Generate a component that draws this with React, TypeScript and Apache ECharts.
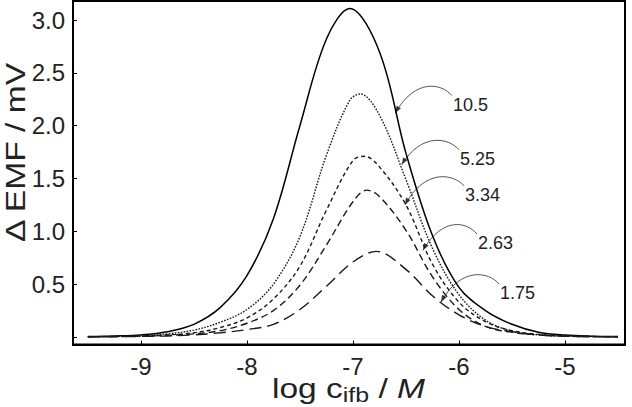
import React, { useEffect, useRef } from "react";
import * as echarts from "echarts";

// ---- data ----
const xs10_5 = [-9.5, -9.25, -9, -8.75, -8.5, -8.25, -8, -7.75, -7.5, -7.25, -7.03, -6.75, -6.5, -6.25, -6, -5.75, -5.5, -5.25, -5, -4.75, -4.5];
const ys10_5 = [0.005, 0.01, 0.02, 0.05, 0.12, 0.28, 0.58, 1.12, 2.0, 2.82, 3.11, 2.7, 1.74, 0.96, 0.47, 0.25, 0.12, 0.045, 0.018, 0.008, 0.004];

const xs5_25 = [-9.5, -9.25, -9, -8.75, -8.5, -8.25, -8, -7.75, -7.5, -7.25, -7.03, -6.93, -6.75, -6.5, -6.25, -6, -5.75, -5.5, -5.25, -5, -4.75, -4.5];
const ys5_25 = [0.003, 0.006, 0.012, 0.03, 0.065, 0.14, 0.26, 0.5, 0.95, 1.72, 2.24, 2.3, 2.1, 1.49, 0.84, 0.4, 0.16, 0.055, 0.02, 0.008, 0.004, 0.002];

const xs3_34 = [-9.5, -9.25, -9, -8.75, -8.5, -8.25, -8, -7.75, -7.5, -7.25, -7, -6.89, -6.75, -6.5, -6.25, -6, -5.75, -5.5, -5.25, -5, -4.75, -4.5];
const ys3_34 = [0.003, 0.005, 0.01, 0.02, 0.04, 0.09, 0.18, 0.36, 0.67, 1.2, 1.67, 1.71, 1.61, 1.25, 0.69, 0.33, 0.145, 0.06, 0.025, 0.01, 0.005, 0.002];

const xs2_63 = [-9.5, -9.25, -9, -8.75, -8.5, -8.25, -8, -7.75, -7.5, -7.25, -7, -6.87, -6.75, -6.5, -6.25, -6, -5.75, -5.5, -5.25, -5, -4.75, -4.5];
const ys2_63 = [0.002, 0.004, 0.008, 0.015, 0.03, 0.06, 0.13, 0.25, 0.49, 0.87, 1.28, 1.39, 1.33, 1.01, 0.57, 0.26, 0.1, 0.045, 0.02, 0.008, 0.004, 0.002];

const xs1_75 = [-9.5, -9.25, -9, -8.75, -8.5, -8.25, -8, -7.75, -7.5, -7.25, -7, -6.78, -6.5, -6.25, -6, -5.75, -5.5, -5.25, -5, -4.75, -4.5];
const ys1_75 = [0.002, 0.003, 0.006, 0.01, 0.02, 0.04, 0.07, 0.12, 0.26, 0.48, 0.71, 0.81, 0.64, 0.39, 0.21, 0.1, 0.05, 0.02, 0.008, 0.004, 0.002];

const seriesLabels = ["10.5", "5.25", "3.34", "2.63", "1.75"];
const seriesXs = [xs10_5, xs5_25, xs3_34, xs2_63, xs1_75];
const seriesYs = [ys10_5, ys5_25, ys3_34, ys2_63, ys1_75];

// annotation anchors (data coordinates): arrow tip on curve, label left/middle
const annoTipX = [-6.6, -6.54, -6.51, -6.34, -6.17];
const annoTipY = [2.12, 1.63, 1.25, 0.82, 0.33];
const annoLabelX = [-6.057, -5.99, -5.943, -5.821, -5.613];
const annoLabelY = [2.2, 1.686, 1.345, 0.89, 0.417];

const xMin = -9.64;
const xMax = -4.434;
const yMin = -0.071;
const yMax = 3.18;

const yTitle = "Δ EMF / mV";
const xTitleParts = ["log c", "ifb", " / ", "M"];

const FAMILY = '"Liberation Sans", Arial, Helvetica, sans-serif';

function measure(text: string, font: string): number {
  const c = document.createElement("canvas").getContext("2d");
  if (!c) return text.length * 10;
  c.font = font;
  return c.measureText(text).width;
}

export default function App() {
  const ref = useRef<HTMLDivElement>(null);
  useEffect(() => {
    if (!ref.current) return;
    const chart = echarts.init(ref.current, undefined, { renderer: "svg" });

    const dashStyles: any[] = ["solid", [1.6, 1.4], [4, 3], [7, 4], [12, 6]];
    const widths = [1.5, 1.4, 1.4, 1.4, 1.4];

    const series = seriesLabels.map((name, i) => ({
      name,
      type: "line",
      data: seriesXs[i].map((x, j) => [x, seriesYs[i][j]]),
      showSymbol: false,
      smooth: 0.35,
      silent: true,
      lineStyle: { color: i === 0 ? "#000" : "#1a1a1a", width: widths[i], type: dashStyles[i], cap: "butt" },
    }));

    const option: any = {
      animation: false,
      grid: {
        left: 73,
        right: 7,
        top: 1,
        bottom: 62.5,
        show: true,
        borderColor: "#000",
        borderWidth: 2,
        containLabel: false,
        outerBoundsMode: "none",
      },
      xAxis: {
        type: "value",
        min: xMin,
        max: xMax,
        minInterval: 1,
        maxInterval: 1,
        splitNumber: 5,
        splitLine: { show: false },
        axisLine: { show: true, onZero: false, lineStyle: { color: "#000", width: 2 } },
        axisTick: { show: true, inside: true, length: 4, lineStyle: { color: "#000", width: 1 } },
        axisLabel: {
          margin: 10,
          fontFamily: FAMILY,
          fontSize: 24,
          color: "#222",
          showMinLabel: false,
          showMaxLabel: false,
          formatter: (v: number) => (Math.abs(v - Math.round(v)) < 1e-6 ? String(Math.round(v)) : ""),
        },
      },
      yAxis: {
        type: "value",
        min: yMin,
        max: yMax,
        minInterval: 0.5,
        maxInterval: 0.5,
        splitNumber: 6,
        splitLine: { show: false },
        axisLine: { show: true, onZero: false, lineStyle: { color: "#000", width: 2 } },
        axisTick: { show: true, inside: true, length: 4, lineStyle: { color: "#000", width: 1 } },
        axisLabel: {
          margin: 8,
          fontFamily: FAMILY,
          fontSize: 24,
          color: "#222",
          showMinLabel: false,
          showMaxLabel: false,
          formatter: (v: number) => (v > 0.25 && v < 3.1 ? v.toFixed(1) : ""),
        },
      },
      series,
    };
    chart.setOption(option);

    const graphics: any[] = [];
    seriesLabels.forEach((t, i) => {
      const tip = chart.convertToPixel({ gridIndex: 0 } as any, [annoTipX[i], annoTipY[i]]) as number[];
      const lab = chart.convertToPixel({ gridIndex: 0 } as any, [annoLabelX[i], annoLabelY[i]]) as number[];
      const s = [lab[0] - 1, lab[1] - 9];
      const cp1 = [s[0] - 10, s[1] - 12];
      const cp2 = [tip[0] + 20, s[1] - 18];
      graphics.push({
        type: "bezierCurve",
        silent: true,
        shape: { x1: s[0], y1: s[1], x2: tip[0], y2: tip[1], cpx1: cp1[0], cpy1: cp1[1], cpx2: cp2[0], cpy2: cp2[1] },
        style: { stroke: "#555", lineWidth: 1, fill: "none" },
      });
      const dx = tip[0] - cp2[0];
      const dy = tip[1] - cp2[1];
      const L = Math.hypot(dx, dy) || 1;
      const ux = dx / L;
      const uy = dy / L;
      const bx = tip[0] - ux * 7;
      const by = tip[1] - uy * 7;
      graphics.push({
        type: "polygon",
        silent: true,
        shape: { points: [[tip[0], tip[1]], [bx - uy * 2.5, by + ux * 2.5], [bx + uy * 2.5, by - ux * 2.5]] },
        style: { fill: "#333" },
      });
      graphics.push({
        type: "text",
        silent: true,
        x: lab[0],
        y: lab[1],
        style: {
          text: t,
          font: `18px ${FAMILY}`,
          fill: "#222",
          textAlign: "left",
          textVerticalAlign: "middle",
          align: "left",
          verticalAlign: "middle",
        },
      });
    });

    // y-axis title (rotated)
    const yFont = `27px ${FAMILY}`;
    const yW = measure(yTitle, yFont);
    graphics.push({
      type: "text",
      silent: true,
      x: 15,
      y: 152.5,
      rotation: Math.PI / 2,
      scaleX: 181 / yW,
      style: {
        text: yTitle,
        font: yFont,
        fill: "#222",
        textAlign: "center",
        textVerticalAlign: "middle",
        align: "center",
        verticalAlign: "middle",
      },
    });

    // x-axis title with subscript and italic M
    const fMain = `27px ${FAMILY}`;
    const fSub = `20px ${FAMILY}`;
    const fIt = `italic 27px ${FAMILY}`;
    const fonts = [fMain, fSub, fMain, fIt];
    const ws = xTitleParts.map((p, i) => measure(p, fonts[i]));
    const total = ws.reduce((a, b) => a + b, 0);
    const sx = 153 / total;
    const baseY = 388;
    const ys = [388, 395.5, 388, 388];
    let acc = 0;
    const children = xTitleParts.map((p, i) => {
      const el = {
        type: "text",
        silent: true,
        x: acc,
        y: ys[i] - baseY,
        style: {
          text: p,
          font: fonts[i],
          fill: "#222",
          textAlign: "left",
          textVerticalAlign: "middle",
          align: "left",
          verticalAlign: "middle",
        },
      };
      acc += ws[i];
      return el;
    });
    graphics.push({
      type: "group",
      x: 348.5 - (total * sx) / 2,
      y: baseY,
      scaleX: sx,
      children,
    });

    chart.setOption({ graphic: graphics });

    return () => {
      chart.dispose();
    };
  }, []);

  return (
    <div
      ref={ref}
      style={{ position: "absolute", left: 0, top: 0, width: 632, height: 407, background: "#fff" }}
    />
  );
}
